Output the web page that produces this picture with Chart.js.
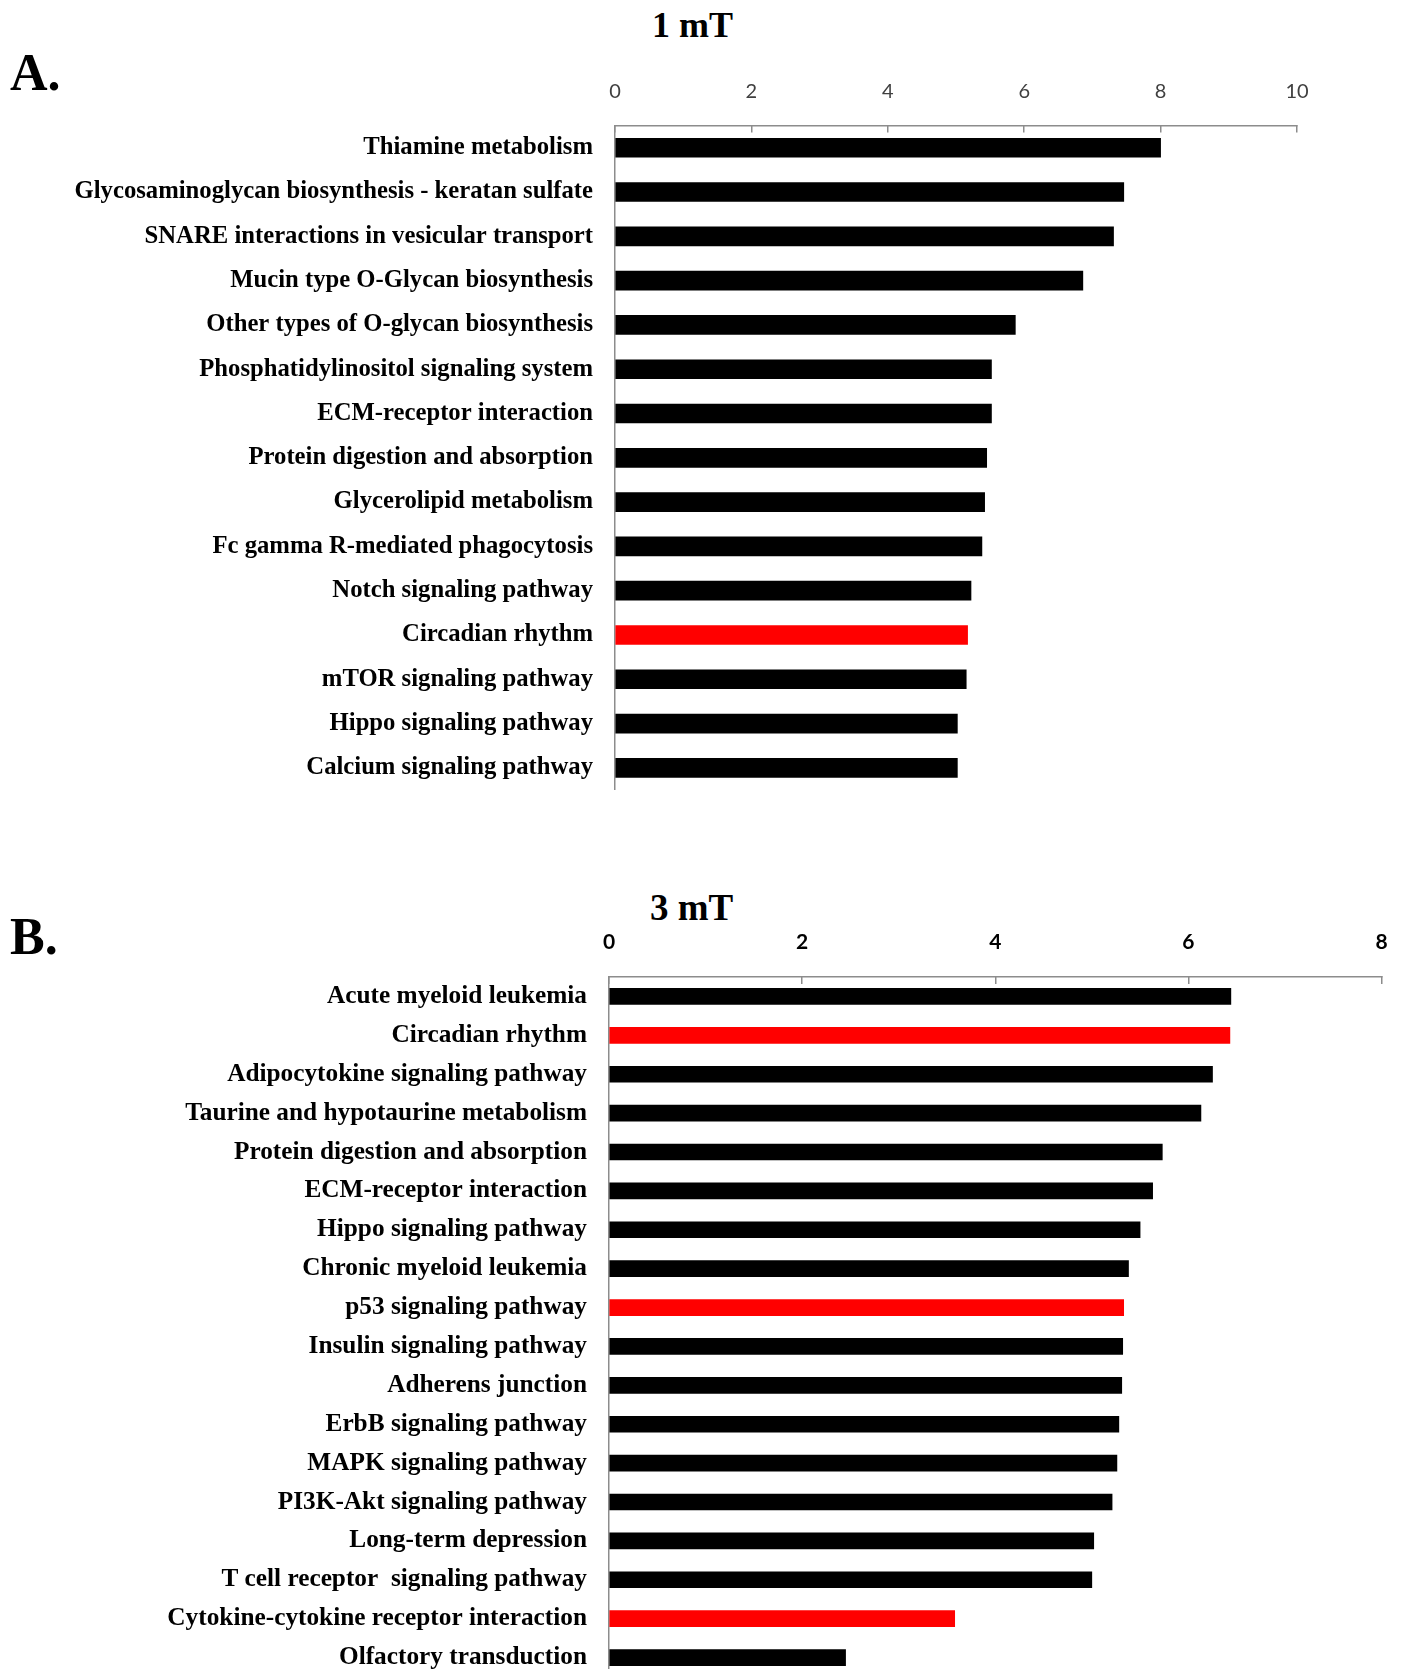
<!DOCTYPE html>
<html>
<head>
<meta charset="utf-8">
<script src="https://cdn.jsdelivr.net/npm/chart.js@4.4.1/dist/chart.umd.min.js"></script>
<style>
  html, body { margin: 0; padding: 0; background: #fff; overflow: hidden; }
  body { width: 1401px; height: 1669px; position: relative; }
  .box { position: absolute; left: 0; width: 1401px; }
  .lbl { position: absolute; font-family: "Liberation Serif", "Times New Roman", serif; font-weight: bold; color: #000; line-height: 1; white-space: nowrap; }
</style>
</head>
<body>
<div class="lbl" style="left:10px; top:47px; font-size:52px;">A.</div>
<div class="lbl" style="left:652px; top:7px; font-size:36px;">1 mT</div>
<div class="box" style="top:0; height:790px;"><canvas id="graficoA"></canvas></div>

<div class="lbl" style="left:10px; top:911px; font-size:52px;">B.</div>
<div class="lbl" style="left:650px; top:889px; font-size:37px;">3 mT</div>
<div class="box" style="top:850px; height:827px;"><canvas id="graficoB"></canvas></div>

<script>
// panel A, 1 mT
const categoriasA = [
  "Thiamine metabolism",
  "Glycosaminoglycan biosynthesis - keratan sulfate",
  "SNARE interactions in vesicular transport",
  "Mucin type O-Glycan biosynthesis",
  "Other types of O-glycan biosynthesis",
  "Phosphatidylinositol signaling system",
  "ECM-receptor interaction",
  "Protein digestion and absorption",
  "Glycerolipid metabolism",
  "Fc gamma R-mediated phagocytosis",
  "Notch signaling pathway",
  "Circadian rhythm",
  "mTOR signaling pathway",
  "Hippo signaling pathway",
  "Calcium signaling pathway"
];
const valoresA = [8.0, 7.46, 7.31, 6.86, 5.87, 5.52, 5.52, 5.45, 5.42, 5.38, 5.22, 5.17, 5.15, 5.02, 5.02];
const ticksA = [0, 2, 4, 6, 8, 10];
const rojosA = ["Circadian rhythm"];

// panel B, 3 mT
const categoriasB = [
  "Acute myeloid leukemia",
  "Circadian rhythm",
  "Adipocytokine signaling pathway",
  "Taurine and hypotaurine metabolism",
  "Protein digestion and absorption",
  "ECM-receptor interaction",
  "Hippo signaling pathway",
  "Chronic myeloid leukemia",
  "p53 signaling pathway",
  "Insulin signaling pathway",
  "Adherens junction",
  "ErbB signaling pathway",
  "MAPK signaling pathway",
  "PI3K-Akt signaling pathway",
  "Long-term depression",
  "T cell receptor  signaling pathway",
  "Cytokine-cytokine receptor interaction",
  "Olfactory transduction"
];
const valoresB = [6.44, 6.43, 6.25, 6.13, 5.73, 5.63, 5.5, 5.38, 5.33, 5.32, 5.31, 5.28, 5.26, 5.21, 5.02, 5.0, 3.58, 2.45];
const ticksB = [0, 2, 4, 6, 8];
const rojosB = ["Circadian rhythm", "p53 signaling pathway", "Cytokine-cytokine receptor interaction"];

function crearGrafico(id, categorias, valores, ticks, rojos, cfg) {
  const ctx = document.getElementById(id).getContext('2d');
  return new Chart(ctx, {
    type: 'bar',
    data: {
      labels: categorias,
      datasets: [{
        data: valores,
        backgroundColor: categorias.map(c => rojos.includes(c) ? '#ff0000' : '#000000'),
        barThickness: cfg.barra
      }]
    },
    options: {
      indexAxis: 'y',
      responsive: true,
      maintainAspectRatio: false,
      animation: false,
      layout: { padding: { left: 0, top: 0, bottom: 0, right: cfg.derecha } },
      plugins: { legend: { display: false }, tooltip: { enabled: false } },
      scales: {
        x: {
          position: 'top',
          min: ticks[0],
          max: ticks[ticks.length - 1],
          afterBuildTicks: s => { s.ticks = ticks.map(v => ({ value: v })); },
          afterFit: s => { s.height = cfg.ejeY; s.paddingLeft = 0; s.paddingRight = 0; },
          grid: { drawOnChartArea: false, tickLength: -7, color: '#8c8c8c', lineWidth: 1.5 },
          border: { display: true, color: '#8c8c8c', width: 1.5 },
          ticks: {
            padding: 29,
            color: cfg.colorTick,
            font: { family: 'Lato, "Liberation Sans", sans-serif', size: cfg.tamTick, weight: cfg.pesoTick }
          }
        },
        y: {
          afterFit: s => { s.width = cfg.izq; s.paddingTop = 0; s.paddingBottom = 0; },
          grid: { display: false, drawTicks: false },
          border: { display: true, color: '#8c8c8c', width: 1.5 },
          ticks: {
            padding: 22,
            color: '#000',
            font: { family: '"Liberation Serif", "Times New Roman", serif', size: cfg.tamEtiqueta, weight: 'bold' }
          }
        }
      }
    }
  });
}

crearGrafico('graficoA', categoriasA, valoresA, ticksA, rojosA,
  { barra: 19, derecha: 104, ejeY: 125.6, izq: 615, colorTick: '#404040', pesoTick: 'normal', tamTick: 20, tamEtiqueta: 24.7 });
crearGrafico('graficoB', categoriasB, valoresB, ticksB, rojosB,
  { barra: 16, derecha: 19.5, ejeY: 127, izq: 609, colorTick: '#000', pesoTick: 'bold', tamTick: 21, tamEtiqueta: 25.3 });
</script>
</body>
</html>
